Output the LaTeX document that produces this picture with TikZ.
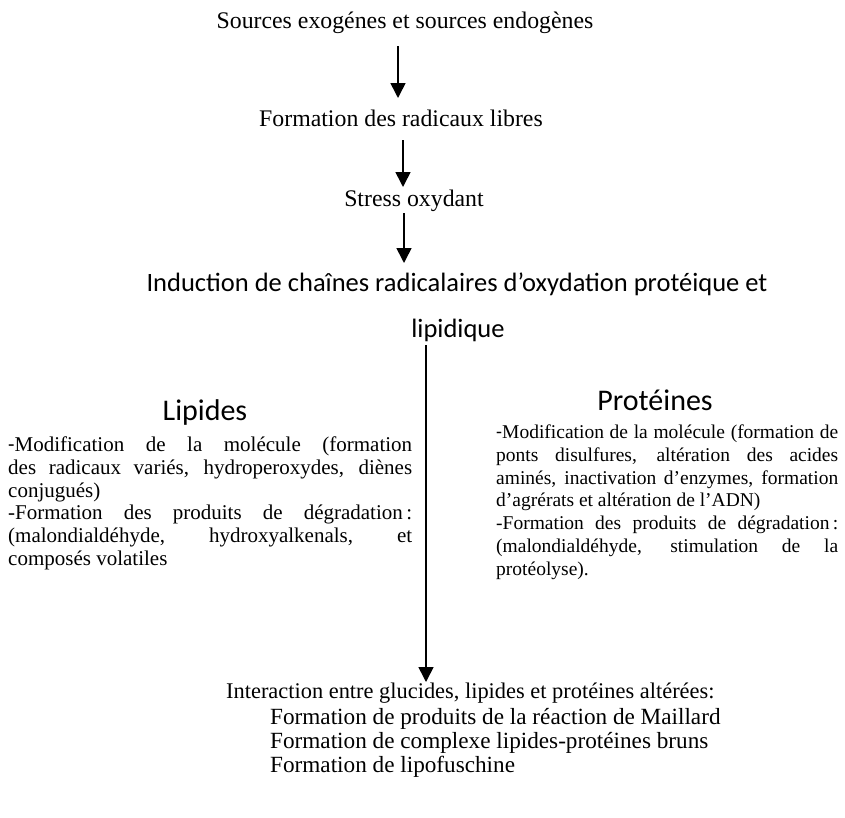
\documentclass[tikz,border=0pt]{standalone}
\usepackage{fontspec}
\setmainfont{Liberation Serif}
\newfontfamily\calib{Carlito}
\usetikzlibrary{arrows.meta}

\tikzset{
  flow/.style={line width=1.6pt, -{Triangle[width=15pt,length=15pt]}},
  toptext/.style={anchor=base, inner sep=0pt, font=\fontsize{23.8}{28}\selectfont},
  head/.style={anchor=base, inner sep=0pt, font=\calib\fontsize{26.5}{32}\selectfont},
  branch/.style={anchor=base, inner sep=0pt, font=\calib\fontsize{30}{34}\selectfont},
  para/.style={anchor=base west, inner sep=0pt},
  endtext/.style={anchor=base west, inner sep=0pt, font=\fontsize{23.2}{24}\selectfont}
}
\newcommand{\dashmark}{{\calib -}}

\begin{document}
\begin{tikzpicture}[x=1pt,y=-1pt]
\useasboundingbox (0,0) rectangle (845,817);

% chain of causes
\node[toptext] (src) at (405,28) {Sources exogénes et sources endogènes};
\node[toptext] (rad) at (401,126) {Formation des radicaux libres};
\node[toptext] (stress) at (414,206) {Stress oxydant};
\node[head] (ind1) at (457,291) {Induction de chaînes radicalaires d’oxydation protéique et};
\node[head] (ind2) at (458,337) {lipidique};

\coordinate (a1s) at (398,46);  \coordinate (a1e) at (398,98);
\coordinate (a2s) at (403,140); \coordinate (a2e) at (403,187);
\coordinate (a3s) at (404,213); \coordinate (a3e) at (404,263);
\coordinate (a4s) at (426,345); \coordinate (a4e) at (426,682);

\draw[flow] (a1s) -- (a1e);
\draw[flow] (a2s) -- (a2e);
\draw[flow] (a3s) -- (a3e);
\draw[flow] (a4s) -- (a4e);

% the two branches
\node[branch] (lip) at (205,420) {Lipides};
\node[branch] (prot) at (655,410) {Protéines};

\node[para, font=\fontsize{21}{22.8}\selectfont] (lipt) at (8,451.5) {\parbox[t]{404pt}{\parindent=0pt
\dashmark Modification de la molécule (formation\linebreak
des radicaux variés, hydroperoxydes, diènes\linebreak
conjugués)\par
-Formation des produits de dégradation\,:\linebreak
(malondialdéhyde, hydroxyalkenals, et\linebreak
composés volatiles}};

\node[para, font=\fontsize{19.5}{22.8}\selectfont] (prott) at (496,438.5) {\parbox[t]{342pt}{\parindent=0pt
\dashmark Modification de la molécule (formation de\linebreak
ponts disulfures, altération des acides\linebreak
aminés, inactivation d’enzymes, formation\linebreak
d’agrérats et altération de l’ADN)\par
-Formation des produits de dégradation\,:\linebreak
(malondialdéhyde, stimulation de la\linebreak
protéolyse).}};

% outcome
\node[endtext, font=\fontsize{22.4}{24}\selectfont] (out0) at (226,698) {Interaction entre glucides, lipides et protéines altérées:};
\node[endtext] (out1) at (270,724) {Formation de produits de la réaction de Maillard};
\node[endtext] (out2) at (270,748) {Formation de complexe lipides-protéines bruns};
\node[endtext] (out3) at (270,772) {Formation de lipofuschine};
\end{tikzpicture}
\end{document}
